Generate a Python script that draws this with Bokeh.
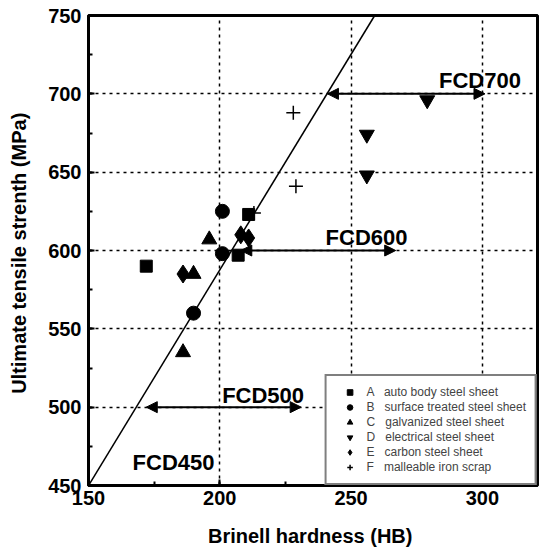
import numpy as np
from bokeh.plotting import figure
from bokeh.models import (Range1d, Label, Arrow, NormalHead, Legend, LegendItem,
                          SingleIntervalTicker, ColumnDataSource)
from bokeh.embed import file_html
from bokeh.resources import INLINE

# ---- data ----
a_hb = [172, 207, 211]
a_uts = [590, 597, 623]
b_hb = [201, 201, 190]
b_uts = [625, 598, 560]
c_hb = [196, 190, 186]
c_uts = [607, 585, 535]
d_hb = [279, 256, 256]
d_uts = [696, 674, 648]
e_hb = [186, 208, 211]
e_uts = [585, 610, 608]
f_hb = [213, 228, 229]
f_uts = [624, 688, 641]

series_names = ["A   auto body steel sheet",
                "B   surface treated steel sheet",
                "C   galvanized steel sheet",
                "D   electrical steel sheet",
                "E   carbon steel sheet",
                "F   malleable iron scrap"]

line_hb = [150, 259]
line_uts = [450, 750]

arrow_y = [700, 600, 500]
arrow_x0 = [241, 208, 172]
arrow_x1 = [301, 267, 231]

fcd_text = ["FCD700", "FCD600", "FCD500", "FCD450"]
fcd_x = [283.5, 240.3, 200.9, 166.8]
fcd_y = [708.5, 608.3, 507.5, 464.7]

x_title = "Brinell hardness  (HB)"
y_title = "Ultimate tensile strenth  (MPa)"

FONT = "Liberation Sans"

p = figure(width=544, height=554, x_range=Range1d(150, 321), y_range=Range1d(450, 750),
           output_backend="svg", toolbar_location=None,
           min_border_left=88, min_border_right=7, min_border_top=15, min_border_bottom=69)

p.outline_line_color = "black"
p.outline_line_width = 3
p.background_fill_color = "white"
p.border_fill_color = "white"

for ax in (p.xaxis[0], p.yaxis[0]):
    ax.ticker = SingleIntervalTicker(interval=50, num_minor_ticks=2)
    ax.axis_line_width = 3
    ax.axis_line_color = "black"
    ax.major_tick_in = 6
    ax.major_tick_out = 0
    ax.minor_tick_in = 4
    ax.minor_tick_out = 0
    ax.major_tick_line_width = 2
    ax.minor_tick_line_width = 2
    ax.major_label_text_font = FONT
    ax.major_label_text_font_style = "bold"
    ax.major_label_text_font_size = "20px"
    ax.major_label_text_color = "black"
    ax.axis_label_text_font = FONT
    ax.axis_label_text_font_style = "bold"
    ax.axis_label_text_font_size = "20px"
    ax.axis_label_text_color = "black"
p.xaxis.major_label_standoff = 5
p.yaxis.major_label_standoff = 7
p.xaxis.axis_label = x_title
p.yaxis.axis_label = y_title
p.xaxis.axis_label_standoff = 17
p.yaxis.axis_label_standoff = 15

p.grid.grid_line_color = "black"
p.grid.grid_line_dash = "3 4"
p.grid.grid_line_width = 1.5
p.grid.ticker = SingleIntervalTicker(interval=50)

# trend line
p.line(line_hb, line_uts, line_color="black", line_width=1.5)

# arrows
asrc = ColumnDataSource(dict(x0=arrow_x0, x1=arrow_x1, y=arrow_y))
p.add_layout(Arrow(x_start="x0", y_start="y", x_end="x1", y_end="y", source=asrc,
                   line_width=2, line_color="black",
                   start=NormalHead(size=11, fill_color="black", line_color="black"),
                   end=NormalHead(size=11, fill_color="black", line_color="black")))

for t, x, y in zip(fcd_text, fcd_x, fcd_y):
    p.add_layout(Label(x=x, y=y, text=t, text_font=FONT, text_font_style="bold",
                       text_font_size="22px", text_baseline="middle", text_align="left",
                       text_color="black"))

# scatter series
ra = p.scatter(a_hb, a_uts, marker="square", size=12, color="black")
rb = p.scatter(b_hb, b_uts, marker="circle", size=14, color="black")
rc = p.scatter(c_hb, c_uts, marker="triangle", size=15, color="black")
rd = p.scatter(d_hb, d_uts, marker="inverted_triangle", size=15, color="black")
re_ = p.scatter(e_hb, e_uts, marker="diamond", size=18, color="black")
rf = p.scatter(f_hb, f_uts, marker="cross", size=14, line_color="black", line_width=1.5)

legend = Legend(items=[LegendItem(label=n, renderers=[r]) for n, r in
                       zip(series_names, [ra, rb, rc, rd, re_, rf])],
                location="bottom_right", margin=0, padding=9, spacing=1,
                glyph_width=28, glyph_height=14, label_height=14, label_standoff=3,
                label_text_font=FONT, label_text_font_size="12px",
                border_line_color="black", border_line_width=2,
                background_fill_color="white", background_fill_alpha=1)
p.add_layout(legend)

open("out.html", "w").write(file_html(p, INLINE))
